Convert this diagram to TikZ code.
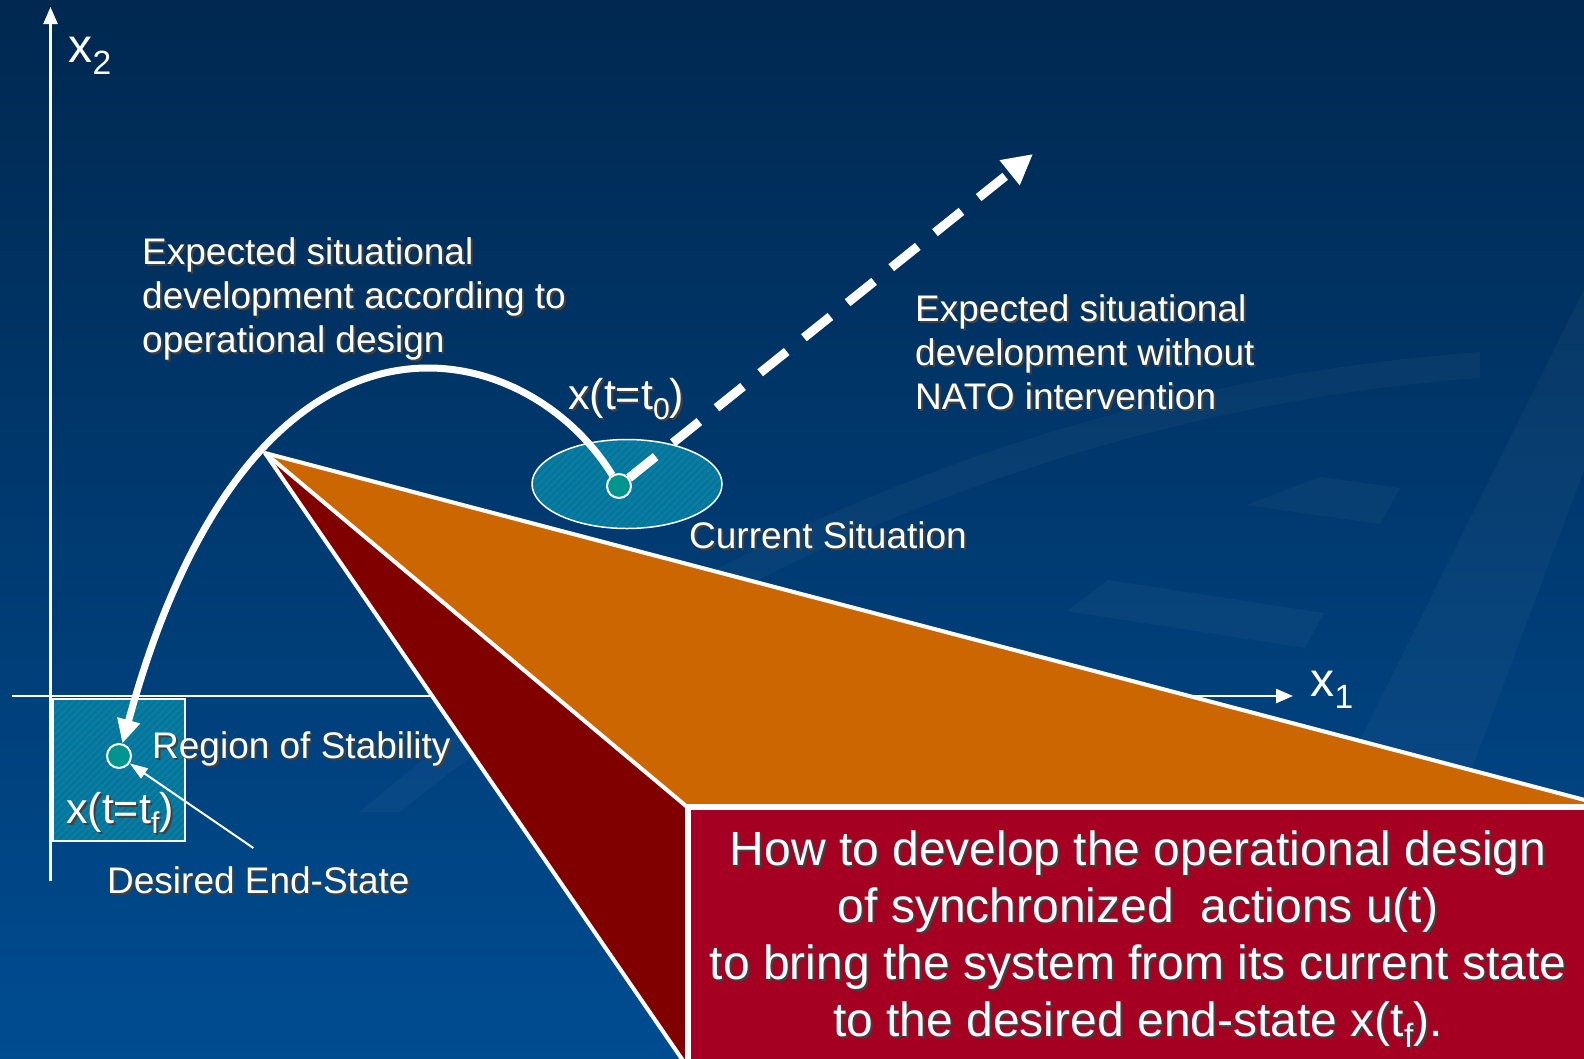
\documentclass[tikz,border=0pt]{standalone}
\usepackage{fontspec}
\setmainfont{Liberation Sans}
\usepackage{tikz}
\usetikzlibrary{arrows.meta, shapes.geometric, patterns.meta, positioning}
\definecolor{bgtop}{RGB}{0,40,80}
\definecolor{bgbot}{RGB}{0,76,145}
\definecolor{orng}{RGB}{204,102,0}
\definecolor{darkred}{RGB}{128,0,0}
\definecolor{boxred}{RGB}{165,0,33}
\definecolor{dotteal}{RGB}{0,150,143}
\definecolor{regfill}{RGB}{12,112,165}
\definecolor{reghatch}{RGB}{0,134,150}
\newcommand{\lsub}[1]{\raisebox{-0.45ex}{\scalebox{0.7}{#1}}}
\newcommand{\shd}[1]{\makebox[0pt][l]{\hspace{2pt}\raisebox{-2pt}{\color{black!75}#1}}#1}
\tikzset{x=1pt, y=-1pt,
         lbl/.style={text=white, inner sep=0pt, font=\fontsize{37}{44}\selectfont},
         biglbl/.style={lbl, font=\fontsize{43}{50}\selectfont},
         axlbl/.style={text=white, inner sep=0pt, font=\fontsize{48}{56}\selectfont},
         axis/.style={draw=white, line width=2.5pt, -{Triangle[length=17pt, width=14pt]}},
         fold/.style={draw=white, line width=4pt, line join=round},
         region/.style={draw=white, line width=1.5pt, preaction={fill=regfill},
                        pattern={Lines[angle=45, distance=5pt, line width=2pt]},
                        pattern color=reghatch, inner sep=0pt},
         state/.style={circle, draw=white, line width=2pt, fill=dotteal,
                       minimum size=24pt, inner sep=0pt},
         plan/.style={draw=white, line width=7pt, -{Triangle[length=24pt, width=22pt]}},
         drift/.style={draw=white, line width=9pt, dash pattern=on 34pt off 22pt,
                       -{Triangle[length=30pt, width=30pt]}},
         pointer/.style={draw=white, line width=2pt, -{Triangle[length=18pt, width=12pt]}},
         deco/.style={fill=white, fill opacity=0.03},
         qbox/.style={rectangle, fill=boxred, draw=white, line width=6pt, text=white,
                      minimum width=900pt, minimum height=266pt, align=center,
                      inner sep=0pt, font=\fontsize{48}{57}\selectfont},
         }

\begin{document}
\begin{tikzpicture}
    \useasboundingbox (0,0) rectangle (1584,1058);
    \shade[top color=bgtop, bottom color=bgbot] (0,0) rectangle (1584,1058);
    \fill[deco] (360,812) .. controls (700,520) and (1100,380) .. (1480,352)
        -- (1480,378) .. controls (1110,405) and (720,550) .. (400,812) -- cycle;
    \fill[deco] (1584,290) -- (1584,470) -- (1460,800) -- (1330,800) -- cycle;
    \fill[deco] (1246,505) -- (1320,477) -- (1400,488) -- (1380,524) -- cycle;
    \fill[deco] (1067,611) -- (1108,580) -- (1324,613) -- (1305,648) -- cycle;

    \draw[axis] (12,696) -- (1293,696);
    \draw[axis] (50.5,881) -- (50.5,7);
    \node[axlbl] (xone) at (1332,690) {x\lsub{1}};
    \node[axlbl] (xtwo) at (90,56) {x\lsub{2}};

    \coordinate (apex) at (265,453);
    \coordinate (fold) at (686,806);
    \coordinate (edge) at (1600,804);
    \coordinate (foot) at (684,1062);
    \fill[orng] (apex) -- (edge) -- (1600,808) -- (fold) -- cycle;
    \fill[darkred] (apex) -- (fold) -- (692,1062) -- (foot) -- cycle;
    \draw[fold] (edge) -- (apex) -- (foot);
    \draw[fold] (apex) -- (fold);

    \node[qbox] (howto) at (1138,940) {\shd{How to develop the operational design}\\
        \shd{of synchronized\ \ actions u(t)}\\
        \shd{to bring the system from its current state}\\
        \shd{to the desired end-state x(t\lsub{f}).}};

    \node[region, ellipse, minimum width=190pt, minimum height=89pt] (cs) at (627,484) {};
    \node[region, rectangle, minimum width=132pt, minimum height=142pt] (ros) at (119,770) {};
    \node[state] (cur) at (619,486) {};
    \node[state] (fin) at (119,756) {};
    \coordinate (nato) at (1033,154);

    \node[lbl, anchor=west, align=left] (plantxt) at (142,300) {\shd{Expected situational}\\
        \shd{development according to}\\\shd{operational design}};
    \node[lbl, anchor=west, align=left] (natotxt) at (915,353) {\shd{Expected situational}\\
        \shd{development without}\\\shd{NATO intervention}};
    \node[biglbl, anchor=base west] (tnull) at (568,409) {\shd{x(t=t\lsub{0})}};
    \node[lbl, anchor=base west] (curtxt) at (689,548) {\shd{Current Situation}};
    \node[lbl, anchor=base west] (rostxt) at (152,758) {\shd{Region of Stability}};
    \node[biglbl, anchor=base west] (tfin) at (66,823) {\shd{x(t=t\lsub{f})}};
    \node[lbl, anchor=base west] (des) at (107,893) {\shd{Desired End-State}};

    \draw[drift] (cur) -- (nato);
    \draw[plan] (cur) .. controls (525,333) and (253,263) .. (fin);
    \draw[pointer] ([xshift=-5pt, yshift=18pt]des.north) -- (fin);
\end{tikzpicture}
\end{document}
